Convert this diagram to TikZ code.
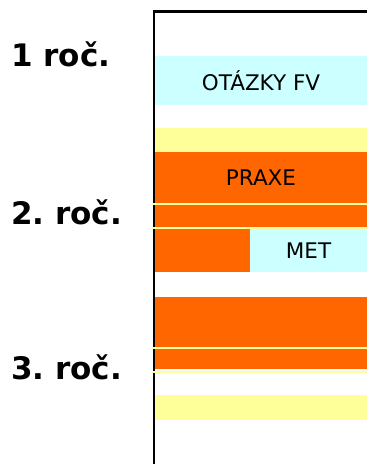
\documentclass[tikz,border=0pt]{standalone}
\usepackage{fontspec}
\setmainfont{DejaVu Sans}
\definecolor{praxe}{HTML}{FF6600}
\definecolor{svetle}{HTML}{CCFFFF}
\definecolor{zluta}{HTML}{FFFF99}
\frenchspacing

\begin{document}
\begin{tikzpicture}[x=1pt, y=-1pt,
    band/.style={anchor=north west, inner sep=0pt, outer sep=0pt, font=\fontsize{21.5}{21.5}\selectfont},
    orangeband/.style={band, fill=praxe},
    cyanband/.style={band, fill=svetle},
    yellowband/.style={band, fill=zluta},
    rocnik/.style={anchor=base west, inner sep=0pt, font=\fontsize{31}{31}\selectfont\bfseries},
    carka/.style={zluta, line width=2pt}]
    \useasboundingbox (0, 0) rectangle (367, 464);

    \node[cyanband, minimum width=212pt, minimum height=48.7pt] at (155, 56)(otazky){OTÁZKY FV};
    \node[yellowband, minimum width=212pt, minimum height=23.7pt] at (155, 128)(zl1){};
    \node[orangeband, minimum width=212pt, minimum height=51pt] at (155, 151.7)(praxe){PRAXE};
    \node[orangeband, minimum width=212pt, minimum height=22pt] at (155, 204.7)(pr2){};
    \node[orangeband, minimum width=95pt, minimum height=43pt] at (155, 228.7)(pr3){};
    \node[cyanband, minimum width=117pt, minimum height=43pt] at (250, 228.7)(met){MET};
    \node[orangeband, minimum width=212pt, minimum height=50.3pt] at (155, 296.7)(pr4){};
    \node[orangeband, minimum width=212pt, minimum height=20pt] at (155, 349)(pr5){};
    \node[yellowband, minimum width=212pt, minimum height=24.7pt] at (155, 395)(zl2){};

    \node[rocnik] at (11, 66.7)(r1){1 roč.};
    \node[rocnik] at (11, 224.3)(r2){2. roč.};
    \node[rocnik] at (11, 379)(r3){3. roč.};

    % osa
    \coordinate (osa0) at (367, 11.5);
    \coordinate (osa1) at (154, 11.5);
    \coordinate (osa2) at (154, 464);
    \draw[line width=2.2pt] (osa0) -- (osa1) -- (osa2);

    % tenke zlute cary
    \coordinate (c1) at (152, 203.7);
    \coordinate (c2) at (152, 227.7);
    \coordinate (c3) at (152, 348);
    \coordinate (c4) at (152, 371.7);
    \draw[carka] (c1) -- (c1 -| praxe.east);
    \draw[carka] (c2) -- (c2 -| praxe.east);
    \draw[carka] (c3) -- (c3 -| praxe.east);
    \draw[carka] (c4) -- (c4 -| praxe.east);
\end{tikzpicture}
\end{document}
